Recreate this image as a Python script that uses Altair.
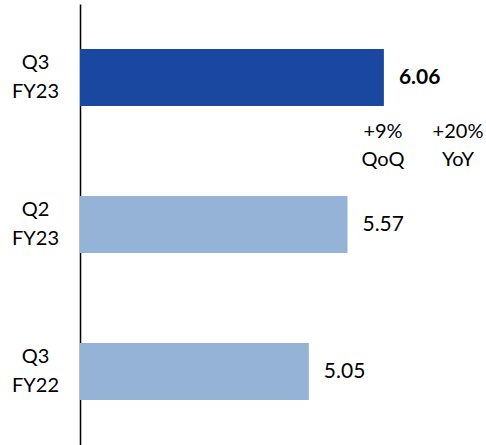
import altair as alt
import pandas as pd

periods = ["Q3 FY23", "Q2 FY23", "Q3 FY22"]
values = [6.06, 5.57, 5.05]
labels = ["6.06", "5.57", "5.05"]
highlight = [True, False, False]
note_qoq = "+9%\nQoQ"
note_yoy = "+20%\nYoY"

df = pd.DataFrame({"period": periods, "value": values, "label": labels, "hl": highlight})

FONT = "Lato"
ymain = alt.Y("period:N", sort=periods,
              scale=alt.Scale(paddingInner=0, paddingOuter=0),
              axis=alt.Axis(title=None, ticks=False, domain=True, domainColor="#000000",
                            domainWidth=1.5, labelExpr="split(datum.label, ' ')",
                            labelLineHeight=29, labelFont=FONT, labelFontSize=20,
                            labelColor="#000000", labelAlign="center", labelPadding=45,
                            labelBaseline="middle", labelOffset=-15, grid=False))
xscale = alt.Scale(domain=[1.97, 1.97 + 406 / 74.3], nice=False, zero=False)

bars = alt.Chart(df).mark_bar(size=57).encode(
    y=ymain,
    x=alt.X("value:Q", scale=xscale, axis=None),
    x2=alt.datum(1.97),
    color=alt.Color("hl:N", scale=alt.Scale(domain=[True, False], range=["#1A47A0", "#95B3D7"]), legend=None),
)

text_bold = alt.Chart(df).transform_filter("datum.hl").mark_text(
    align="left", baseline="middle", dx=15, font=FONT, fontSize=21, fontWeight="bold",
    color="#000000").encode(
    y=alt.Y("period:N", sort=periods),
    x=alt.X("value:Q", scale=xscale, axis=None),
    text="label:N",
)
text_norm = alt.Chart(df).transform_filter("!datum.hl").mark_text(
    align="left", baseline="middle", dx=15, font=FONT, fontSize=21,
    color="#000000").encode(
    y=alt.Y("period:N", sort=periods),
    x=alt.X("value:Q", scale=xscale, axis=None),
    text="label:N",
)

def note(txt, xpix):
    return alt.Chart(pd.DataFrame({"note": [txt]})).mark_text(
        align="center", baseline="middle", font=FONT, fontSize=20,
        lineBreak="\n", lineHeight=28, color="#000000").encode(
        x=alt.value(xpix), y=alt.value(128), text="note:N")

chart = alt.layer(bars, text_bold, text_norm, note(note_qoq, 303), note(note_yoy, 378)).properties(
    width=406, height=441, autosize="none",
    padding={"left": 80, "top": 4, "right": 0, "bottom": 0},
).configure_view(stroke=None)

chart.save("out.html", embed_options={"renderer": "svg", "actions": False})
